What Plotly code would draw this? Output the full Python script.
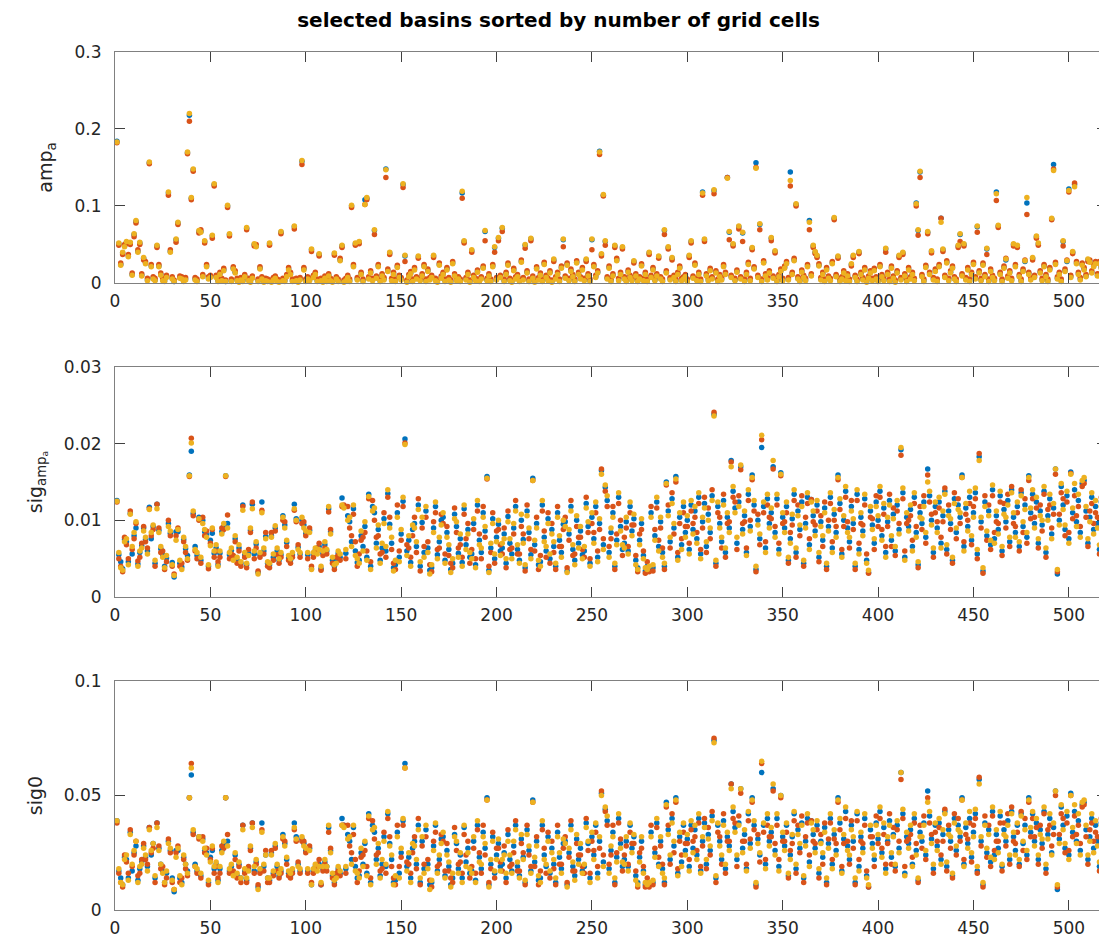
import plotly.graph_objects as go

# basin rank (x axis)
basin_rank = list(range(1, 521))

# ---- panel 1: amp_a, values in units of 0.001 ----
amp_blue = [
184,51,24,39,48,53,35,52,11,63,80,41,52,10,32,26,4,156,22,6,
4,48,22,11,4,3,8,117,41,6,2,56,78,7,6,3,5,169,218,110,
147,5,3,67,67,9,54,22,6,8,61,128,8,3,12,4,17,2,100,63,
3,19,14,4,2,5,3,9,71,4,2,7,50,48,3,19,6,2,4,3,
51,2,5,7,3,2,66,4,3,9,18,12,3,73,4,2,5,158,18,3,
6,4,43,8,12,3,37,4,2,7,3,10,4,2,38,6,3,30,48,2,
4,8,3,100,22,51,5,53,12,3,108,110,6,14,4,68,7,22,3,10,
5,148,16,39,4,12,3,21,8,5,128,35,2,9,13,3,18,6,34,4,
10,22,3,16,5,8,35,4,2,24,7,12,3,18,5,2,26,10,4,6,
3,117,54,5,12,2,42,8,4,15,3,6,20,67,4,10,3,22,46,5,
58,8,71,3,12,24,4,2,17,6,9,3,28,5,49,14,3,57,7,2,
19,5,11,3,25,8,4,14,2,30,6,12,3,20,56,7,24,4,16,9,
3,27,12,6,18,4,30,10,3,56,22,8,14,171,37,114,54,6,20,3,
10,48,30,4,12,46,6,3,15,8,4,28,10,3,6,23,4,12,3,39,
8,18,4,10,34,6,3,68,14,46,5,32,8,3,12,20,4,6,9,3,
35,54,7,24,4,12,3,118,56,10,4,17,6,120,14,3,9,5,22,12,
137,66,8,50,4,15,73,6,65,3,12,25,4,45,19,156,8,76,3,27,
10,5,14,58,7,41,3,9,16,4,20,26,5,144,12,30,102,6,3,15,
8,4,22,81,10,48,40,35,23,5,12,3,18,7,4,26,84,9,34,3,
6,14,4,10,3,24,35,8,3,40,12,5,18,2,7,14,4,17,6,3,
22,9,4,44,12,3,20,7,2,14,35,5,39,10,3,18,6,12,4,104,
68,144,9,3,21,66,12,41,5,16,3,22,84,43,8,27,4,14,20,6,
3,48,63,10,50,5,18,3,12,25,6,73,14,4,24,9,44,3,16,8,
4,118,74,12,3,20,30,7,14,4,50,22,48,9,3,16,28,104,12,5,
32,8,60,51,14,4,22,9,3,18,83,154,25,6,12,3,54,16,28,122,
8,40,128,26,12,5,24,18,9,30,28,14,22,26,10,26,20,15,24,18]

amp_red = [
182,49,26,37,50,51,37,50,13,60,78,43,50,12,30,28,6,155,24,8,
6,46,24,13,6,5,10,114,43,8,4,53,76,9,8,5,7,168,210,108,
145,7,5,65,69,11,52,24,8,10,58,126,10,5,14,6,19,4,98,61,
5,21,16,6,4,7,5,11,69,6,4,9,48,50,5,21,8,4,6,5,
49,4,7,9,5,4,64,6,5,11,20,14,5,70,6,4,7,154,20,5,
8,6,41,10,14,5,35,6,4,9,5,12,6,4,36,8,5,32,46,4,
6,10,5,98,24,49,7,51,14,5,102,108,8,16,6,63,9,24,5,12,
7,137,18,37,6,14,5,23,10,7,124,28,4,11,15,5,20,8,32,6,
12,24,5,18,7,10,33,6,4,26,9,14,5,20,7,4,28,12,6,8,
5,110,52,7,14,4,40,10,6,17,5,8,22,55,6,12,5,24,40,7,
55,10,67,5,14,26,6,4,19,8,11,5,30,7,45,16,5,55,9,4,
21,7,13,5,27,10,6,16,4,28,8,14,5,22,47,9,26,6,18,11,
5,29,14,8,20,6,28,12,5,43,24,10,16,167,35,113,49,8,22,5,
12,46,32,6,14,44,8,5,17,10,6,26,12,5,8,25,6,14,5,37,
10,20,6,12,32,8,5,63,16,44,7,30,10,5,14,22,6,8,11,5,
33,52,9,26,6,14,5,114,54,12,6,19,8,116,16,5,11,7,24,14,
137,56,10,48,6,17,70,8,54,5,14,27,6,43,21,150,10,69,5,29,
12,7,16,55,9,39,5,11,18,6,22,28,7,126,14,32,100,8,5,17,
10,6,24,69,12,46,38,33,25,7,14,5,20,9,6,28,82,11,32,5,
8,16,6,12,5,22,33,10,5,38,14,7,20,4,9,16,6,19,8,5,
24,11,6,40,14,5,22,9,4,16,33,7,37,12,5,20,8,14,6,100,
62,137,11,5,23,64,14,39,7,18,5,24,84,41,10,29,6,16,22,8,
5,46,54,12,48,7,20,5,14,27,8,66,16,6,26,11,37,5,18,10,
6,107,72,14,5,22,32,9,16,6,48,24,46,11,5,18,30,89,14,7,
30,10,58,49,16,6,24,11,5,20,82,148,27,8,14,5,48,18,30,118,
10,38,130,28,14,7,26,20,11,28,30,16,24,28,12,28,22,17,26,20]

amp_yellow = [
183,52,23,40,47,54,34,53,10,64,81,40,53,9,33,25,3,157,21,5,
3,49,21,10,3,2,7,118,40,5,2,57,79,6,5,2,4,170,220,111,
148,4,2,68,66,8,55,21,5,7,62,129,7,2,11,3,16,2,101,64,
2,18,13,3,1,4,2,8,72,3,1,6,51,47,2,18,5,1,3,2,
52,1,4,6,2,1,67,3,2,8,17,11,2,74,3,1,4,159,17,2,
5,3,44,7,11,2,38,3,1,6,2,9,3,1,39,5,2,29,49,1,
3,7,2,101,21,52,4,54,11,2,102,111,5,13,3,69,6,21,2,9,
4,147,15,40,3,11,2,20,7,4,129,36,1,8,12,2,17,5,35,3,
9,21,2,15,4,7,36,3,1,23,6,11,2,17,4,1,25,9,3,5,
2,119,55,4,11,1,43,7,3,14,2,5,19,68,3,9,2,21,47,4,
59,7,72,2,11,23,3,1,16,5,8,2,27,4,50,13,2,58,6,1,
18,4,10,2,24,7,3,13,1,31,5,11,2,19,57,6,23,3,15,8,
2,26,11,5,17,3,31,9,2,57,21,7,13,170,38,115,55,5,19,2,
9,49,29,3,11,47,5,2,14,7,3,29,9,2,5,22,3,11,2,40,
7,17,3,9,35,5,2,69,13,47,4,33,7,2,11,19,3,5,8,2,
36,55,6,23,3,11,2,117,57,9,3,16,5,121,13,2,8,4,21,11,
136,67,7,51,3,14,74,5,66,2,11,24,3,46,18,149,7,77,2,26,
9,4,13,59,6,42,2,8,15,3,19,25,4,133,11,29,103,5,2,14,
7,3,21,79,9,49,41,36,22,4,11,2,17,6,3,25,85,8,35,2,
5,13,3,9,2,25,36,7,2,41,11,4,17,1,6,13,3,16,5,2,
21,8,3,45,11,2,19,6,1,13,36,4,40,9,2,17,5,11,3,103,
69,145,8,2,20,67,11,42,4,15,2,21,79,44,7,26,3,13,19,5,
2,49,64,9,51,4,17,2,11,24,5,74,13,3,23,8,45,2,15,7,
3,116,75,11,2,19,31,6,13,3,51,21,49,8,2,15,29,111,11,4,
33,7,61,52,13,3,21,8,2,17,84,146,24,5,11,2,55,15,29,120,
7,41,125,25,11,4,23,17,8,31,27,13,21,25,9,25,19,14,23,17]

# ---- panel 2: sig_amp_a, values in units of 0.0001 ----
sigamp_blue = [
126,55,46,37,75,72,46,109,56,80,90,43,58,67,90,75,60,117,76,92,
44,121,87,63,55,40,51,96,83,45,26,85,85,44,39,75,63,54,159,190,
109,66,54,104,48,100,85,81,40,74,83,57,64,42,57,85,92,158,96,55,
61,51,76,48,64,44,120,55,42,57,87,121,56,69,32,55,124,60,79,44,
42,80,52,90,60,48,55,106,94,71,51,48,55,121,102,65,56,100,94,83,
55,87,37,55,61,60,66,37,57,68,60,115,85,48,40,48,57,52,129,118,
57,106,98,72,115,60,45,48,80,66,92,52,134,40,118,110,70,88,48,64,
102,60,135,95,70,38,42,110,52,82,125,206,60,74,45,88,96,66,120,40,
97,58,112,64,35,38,90,118,55,72,100,104,48,84,62,36,44,108,92,57,
76,45,115,68,88,52,56,96,42,120,74,58,110,86,157,35,64,102,50,78,
95,60,64,82,44,105,70,56,90,118,62,48,100,75,38,112,84,55,155,68,
96,42,46,120,78,60,102,50,88,66,40,110,74,58,95,98,34,82,118,62,
48,100,70,86,55,60,122,92,44,104,76,118,52,96,165,68,143,126,58,84,
110,40,74,130,92,62,70,98,60,118,86,102,48,38,74,96,54,34,40,36,
110,38,80,124,66,98,58,40,150,112,72,128,90,157,52,104,68,118,84,100,
62,120,88,112,76,130,56,98,122,66,108,84,132,238,44,118,96,72,126,58,
104,90,178,138,116,70,124,170,88,106,58,134,92,159,120,36,100,76,195,118,
64,128,96,110,170,84,128,62,162,104,90,118,48,76,102,134,58,112,88,124,
44,96,130,68,127,106,86,120,52,98,74,116,40,92,130,64,108,84,159,122,
56,100,138,90,72,118,96,40,134,62,104,86,128,48,32,112,94,70,124,100,
138,80,116,58,98,126,74,108,60,120,88,192,136,52,104,92,114,66,130,84,
42,110,96,124,78,167,132,100,58,118,90,124,70,106,138,62,112,96,48,128,
84,120,104,159,66,116,92,130,74,110,136,56,183,98,34,124,80,112,68,140,
76,106,88,132,60,114,98,126,72,140,104,84,118,66,136,92,120,78,158,110,
134,96,124,70,112,94,138,58,106,128,82,116,167,30,100,144,120,88,132,76,
163,110,140,98,126,84,148,152,112,70,104,130,88,118,96,62,124,84,108,72]

sigamp_red = [
124,50,40,33,78,68,50,112,62,76,96,47,52,70,92,72,64,115,80,88,
40,121,90,58,60,36,46,100,80,40,30,80,90,40,44,72,58,48,157,207,
106,60,50,100,44,104,80,86,37,70,88,52,60,46,52,90,88,157,107,50,
56,54,72,44,60,40,118,52,38,62,84,124,50,64,34,52,113,56,84,40,
38,84,48,86,55,44,52,100,98,66,48,44,52,113,98,68,52,96,98,80,
50,90,40,52,58,64,70,35,54,64,56,111,88,44,36,52,54,48,118,120,
50,118,90,80,108,72,40,56,74,78,84,60,128,46,126,100,78,80,56,58,
110,52,130,104,62,44,36,120,60,74,118,201,68,64,52,80,104,58,128,34,
90,66,104,72,42,33,98,110,62,64,108,96,56,92,54,44,38,116,84,64,
68,52,108,76,96,44,62,88,50,112,82,50,118,78,154,40,58,110,44,86,
88,68,56,90,38,112,62,64,82,126,56,56,92,82,34,120,76,62,152,60,
104,36,54,112,86,52,110,44,96,58,36,118,66,66,88,104,38,74,126,54,
56,92,78,78,62,52,130,84,50,96,84,110,60,88,167,76,138,118,66,76,
118,36,82,122,100,54,78,90,66,110,94,94,54,33,82,88,60,31,46,33,
118,34,88,116,74,90,64,36,146,120,64,136,82,150,58,96,76,110,92,92,
70,112,96,104,84,122,62,90,130,58,116,76,140,241,40,110,104,64,134,52,
96,98,176,130,124,62,132,166,96,98,64,126,100,153,112,33,108,68,205,110,
72,120,104,102,167,92,120,70,158,96,98,110,44,84,94,126,52,120,80,132,
40,104,122,76,127,98,94,112,46,106,66,124,36,100,122,72,100,92,153,114,
62,92,130,98,64,126,88,36,126,70,96,94,120,56,31,104,102,62,132,92,
130,88,108,66,92,134,66,116,54,112,96,185,128,60,96,100,106,74,122,92,
38,118,88,132,70,159,124,108,52,110,98,116,78,98,142,56,120,88,44,136,
76,128,96,156,72,108,100,122,68,118,128,50,187,90,31,132,74,120,62,132,
84,98,96,124,54,122,90,134,66,144,96,92,110,60,140,84,128,70,152,102,
128,104,116,64,120,86,134,52,114,120,90,108,160,33,108,136,128,80,124,84,
161,102,132,106,118,92,144,148,104,66,112,122,96,110,104,56,130,78,116,66]

sigamp_yellow = [
125,58,38,35,72,76,42,108,66,84,98,40,60,64,86,78,56,114,84,94,
48,115,84,66,52,38,54,92,86,42,28,74,88,48,36,78,66,50,158,201,
112,62,58,102,52,96,88,78,42,67,90,60,68,40,60,82,96,158,90,58,
64,48,80,52,68,46,113,58,44,54,90,115,60,72,30,58,110,64,76,46,
44,78,56,93,64,50,58,104,90,74,54,50,58,115,100,62,58,104,90,86,
58,84,36,58,64,56,62,40,60,72,62,118,82,52,42,44,60,56,120,116,
62,100,104,66,120,54,50,44,86,60,98,48,131,36,112,116,64,94,44,70,
96,66,140,90,78,34,48,104,46,88,130,199,54,80,40,94,90,72,114,46,
104,52,118,58,30,42,84,124,50,78,94,110,44,78,68,32,50,102,98,52,
82,40,120,62,82,58,50,102,38,126,68,64,104,92,155,32,70,96,56,72,
100,54,70,76,50,98,76,50,96,112,68,44,108,70,42,106,90,50,152,74,
90,48,40,126,72,66,96,56,82,72,44,104,80,52,100,92,32,88,112,68,
42,106,64,92,50,66,116,98,40,110,70,124,46,102,160,62,146,132,52,90,
104,44,68,136,86,68,64,104,56,124,80,108,42,36,68,102,50,38,36,40,
104,42,74,130,60,104,52,44,148,106,78,122,96,154,48,110,62,124,78,106,
56,126,82,118,70,136,50,104,116,72,100,90,126,236,48,124,90,78,120,64,
110,84,170,144,110,78,118,172,82,112,54,140,86,156,126,40,94,82,211,124,
58,134,90,116,178,78,134,56,160,110,84,124,52,70,108,140,64,106,94,118,
48,90,136,62,124,112,80,126,58,92,80,110,44,86,136,58,114,78,156,128,
52,106,144,84,78,112,102,44,140,56,110,80,134,44,35,118,88,76,118,106,
144,74,122,52,104,120,80,102,66,126,82,195,142,48,110,86,120,60,136,78,
46,104,102,118,84,150,138,94,64,124,84,130,64,112,134,68,106,102,52,122,
90,114,110,156,60,122,86,138,80,104,142,62,178,104,38,118,86,106,74,146,
70,112,82,138,66,108,104,120,78,136,110,78,124,72,132,98,114,84,156,116,
140,90,130,76,106,100,144,64,100,134,76,122,167,36,94,148,114,94,138,70,
160,116,148,92,134,78,152,156,118,76,98,136,82,126,90,68,118,90,102,78]

# ---- panel 3: sig0, values in units of 0.001 ----
sig0_blue = [
39,17,14,11,23,22,14,34,17,25,28,13,18,21,28,23,19,36,24,29,
14,38,27,20,17,12,16,30,26,14,8,26,26,14,12,23,20,17,49,59,
34,20,17,32,15,31,26,25,12,23,26,18,20,13,18,26,29,49,30,17,
19,16,24,15,20,14,37,17,13,18,27,38,17,21,10,17,38,19,24,14,
13,25,16,28,19,15,17,33,29,22,16,15,17,38,32,20,17,31,29,26,
17,27,11,17,19,19,20,11,18,21,19,36,26,15,12,15,18,16,40,37,
18,33,30,22,36,19,14,15,25,20,29,16,42,12,37,34,22,27,15,20,
32,19,42,29,22,12,13,34,16,25,39,64,19,23,14,27,30,20,37,12,
30,18,35,20,11,12,28,37,17,22,31,32,15,26,19,11,14,33,29,18,
24,14,36,21,27,16,17,30,13,37,23,18,34,27,49,11,20,32,16,24,
29,19,20,25,14,33,22,17,28,37,19,15,31,23,12,35,26,17,48,21,
30,13,14,37,24,19,32,16,27,20,12,34,23,18,29,30,11,25,37,19,
15,31,22,27,17,19,38,29,14,32,24,37,16,30,51,21,44,39,18,26,
34,12,23,40,29,19,22,30,19,37,27,32,15,12,23,30,17,11,12,11,
34,12,25,38,20,30,18,12,47,35,22,40,28,49,16,32,21,37,26,31,
19,37,27,35,24,40,17,30,38,20,33,26,41,74,14,37,30,22,39,18,
32,28,55,43,36,22,38,53,27,33,18,42,29,49,37,11,31,24,60,37,
20,40,30,34,53,26,40,19,50,32,28,37,15,24,32,42,18,35,27,38,
14,30,40,21,39,33,27,37,16,30,23,36,12,29,40,20,33,26,49,38,
17,31,43,28,22,37,30,12,42,19,32,27,40,15,10,35,29,22,38,31,
43,25,36,18,30,39,23,33,19,37,27,60,42,16,32,29,35,20,40,26,
13,34,30,38,24,52,41,31,18,37,28,38,22,33,43,19,35,30,15,40,
26,37,32,49,20,36,29,40,23,34,42,17,57,30,11,38,25,35,21,43,
24,33,27,41,19,35,30,39,22,43,32,26,37,20,42,29,37,24,49,34,
42,30,38,22,35,29,43,18,33,40,25,36,52,9,31,45,37,27,41,24,
51,34,43,30,39,26,46,47,35,22,32,40,27,37,30,19,38,26,33,22]

sig0_red = [
38,16,12,10,24,21,16,35,19,24,30,15,16,22,29,22,20,36,25,27,
12,38,28,18,19,11,14,31,25,12,9,25,28,12,14,22,18,15,49,64,
33,19,16,31,14,32,25,27,11,22,27,16,19,14,16,28,27,49,33,16,
17,17,22,14,19,12,37,16,12,19,26,38,16,20,11,16,35,17,26,12,
12,26,15,27,17,14,16,31,30,20,15,14,16,35,30,21,16,30,30,25,
16,28,12,16,18,20,22,11,17,20,17,34,27,14,11,16,17,15,37,37,
16,37,28,25,33,22,12,17,23,24,26,19,40,14,39,31,24,25,17,18,
34,16,40,32,19,14,11,37,19,23,37,62,21,20,16,25,32,18,40,11,
28,20,32,22,13,10,30,34,19,20,33,30,17,29,17,14,12,36,26,20,
21,16,33,24,30,14,19,27,16,35,25,16,37,24,48,12,18,34,14,27,
27,21,17,28,12,35,19,20,25,39,17,17,29,25,11,37,24,19,47,19,
32,11,17,35,27,16,34,14,30,18,11,37,20,20,27,32,12,23,39,17,
17,29,24,24,19,16,40,26,16,30,26,34,19,27,52,24,43,37,20,24,
37,11,25,38,31,17,24,28,20,34,29,29,17,10,25,27,19,10,14,10,
37,11,27,36,23,28,20,11,45,37,20,42,25,47,18,30,24,34,29,29,
22,35,30,32,26,38,19,28,40,18,36,24,43,75,12,34,32,20,42,16,
30,30,55,40,38,19,41,51,30,30,20,39,31,47,35,10,33,21,64,34,
22,37,32,32,52,29,37,22,49,30,30,34,14,26,29,39,16,37,25,41,
12,32,38,24,39,30,29,35,14,33,20,38,11,31,38,22,31,29,47,35,
19,29,40,30,20,39,27,11,39,22,30,29,37,17,10,32,32,19,41,29,
40,27,33,20,29,42,20,36,17,35,30,57,40,19,30,31,33,23,38,29,
12,37,27,41,22,49,38,33,16,34,30,36,24,30,44,17,37,27,14,42,
24,40,30,48,22,33,31,38,21,37,40,16,58,28,10,41,23,37,19,41,
26,30,30,38,17,38,28,42,20,45,30,29,34,19,43,26,40,22,47,32,
40,32,36,20,37,27,42,16,35,37,28,33,50,10,33,42,40,25,38,26,
50,32,41,33,37,29,45,46,32,20,35,38,30,34,32,17,40,24,36,20]

sig0_yellow = [
39,18,12,11,22,24,13,33,20,26,30,12,19,20,27,24,17,35,26,29,
15,36,26,20,16,12,17,29,27,13,9,23,27,15,11,24,20,16,49,62,
35,19,18,32,16,30,27,24,13,21,28,19,21,12,19,25,30,49,28,18,
20,15,25,16,21,14,35,18,14,17,28,36,19,22,9,18,34,20,24,14,
14,24,17,29,20,16,18,32,28,23,17,16,18,36,31,19,18,32,28,27,
18,26,11,18,20,17,19,12,19,22,19,37,25,16,13,14,19,17,37,36,
19,31,32,20,37,17,16,14,27,19,30,15,41,11,35,36,20,29,14,22,
30,20,43,28,24,11,15,32,14,27,40,62,17,25,12,29,28,22,35,14,
32,16,37,18,9,13,26,38,16,24,29,34,14,24,21,10,16,32,30,16,
25,12,37,19,25,18,16,32,12,39,21,20,32,29,48,10,22,30,17,22,
31,17,22,24,16,30,24,16,30,35,21,14,33,22,13,33,28,16,47,23,
28,15,12,39,22,20,30,17,25,22,14,32,25,16,31,29,10,27,35,21,
13,33,20,29,16,20,36,30,12,34,22,38,14,32,50,19,45,41,16,28,
32,14,21,42,27,21,20,32,17,38,25,33,13,11,21,32,16,12,11,12,
32,13,23,40,19,32,16,14,46,33,24,38,30,48,15,34,19,38,24,33,
17,39,25,37,22,42,16,32,36,22,31,28,39,73,15,38,28,24,37,20,
34,26,53,45,34,24,37,53,25,35,17,43,27,48,39,12,29,25,65,38,
18,42,28,36,55,24,42,17,50,34,26,38,16,22,33,43,20,33,29,37,
15,28,42,19,38,35,25,39,18,29,25,34,14,27,42,18,35,24,48,40,
16,33,45,26,24,35,32,14,43,17,34,25,42,14,11,37,27,24,37,33,
45,23,38,16,32,37,25,32,20,39,25,60,44,15,34,27,37,19,42,24,
14,32,32,37,26,47,43,29,20,38,26,40,20,35,42,21,33,32,16,38,
28,35,34,48,19,38,27,43,25,32,44,19,55,32,12,37,27,33,23,45,
22,35,25,43,20,33,32,37,24,42,34,24,38,22,41,30,35,26,48,36,
43,28,40,24,33,31,45,20,31,42,24,38,52,11,29,46,35,29,43,22,
50,36,46,29,42,24,47,48,37,24,30,42,25,39,28,21,37,28,32,24]

colors = ["#0072BD", "#D95319", "#EDB120"]
x_ticks = [0, 50, 100, 150, 200, 250, 300, 350, 400, 450, 500]

panels = [
    ([amp_blue, amp_red, amp_yellow], 0.001, [0, 0.3], [0, 0.1, 0.2, 0.3],
     ["0", "0.1", "0.2", "0.3"], "amp<sub>a</sub>", [0.7308, 1.0]),
    ([sigamp_blue, sigamp_red, sigamp_yellow], 0.0001, [0, 0.03], [0, 0.01, 0.02, 0.03],
     ["0", "0.01", "0.02", "0.03"], "sig<sub>amp<sub>a</sub></sub>", [0.3648, 0.6329]),
    ([sig0_blue, sig0_red, sig0_yellow], 0.001, [0, 0.1], [0, 0.05, 0.1],
     ["0", "0.05", "0.1"], "sig0", [0.0, 0.2669]),
]

fig = go.Figure()
FONT = "DejaVu Sans, sans-serif"
layout = {}
for p, (series, unit, yr, yt, ytt, ylab, dom) in enumerate(panels):
    n = "" if p == 0 else str(p + 1)
    for s, c in zip(series, colors):
        fig.add_trace(go.Scatter(
            x=basin_rank, y=[v * unit for v in s], mode="markers",
            marker=dict(color=c, size=5.5, line=dict(width=0)),
            xaxis="x" + n, yaxis="y" + n, showlegend=False, cliponaxis=False))
    layout["xaxis" + n] = dict(
        domain=[0, 1], anchor="y" + n, range=[0, 520], tickvals=x_ticks,
        ticks="inside", ticklen=10, tickcolor="#404040", showline=True,
        linecolor="#808080", linewidth=1, mirror="ticks", showgrid=False,
        zeroline=False, ticklabelstandoff=3,
        tickfont=dict(size=17, color="#262626", family=FONT))
    layout["yaxis" + n] = dict(
        domain=dom, anchor="x" + n, range=yr, tickvals=yt, ticktext=ytt,
        ticks="inside", ticklen=10, tickcolor="#404040", showline=True,
        linecolor="#808080", linewidth=1, mirror="ticks", showgrid=False,
        zeroline=False, ticklabelstandoff=9,
        tickfont=dict(size=17, color="#262626", family=FONT),
        title=dict(text=ylab, font=dict(size=19, color="#262626", family=FONT),
                   standoff=16))

# the page is drawn with an 8 px body margin, so the figure is 8 px smaller
fig.update_layout(
    width=1099, height=935,
    margin=dict(l=107, r=0, t=44, b=33),
    paper_bgcolor="white", plot_bgcolor="white",
    title=dict(text="<b>selected basins sorted by number of grid cells</b>",
               x=0.501, xref="container", xanchor="center",
               y=0.987, yref="container", yanchor="middle",
               font=dict(size=20, color="#000000", family=FONT)),
    **layout)

fig.write_html("out.html")
